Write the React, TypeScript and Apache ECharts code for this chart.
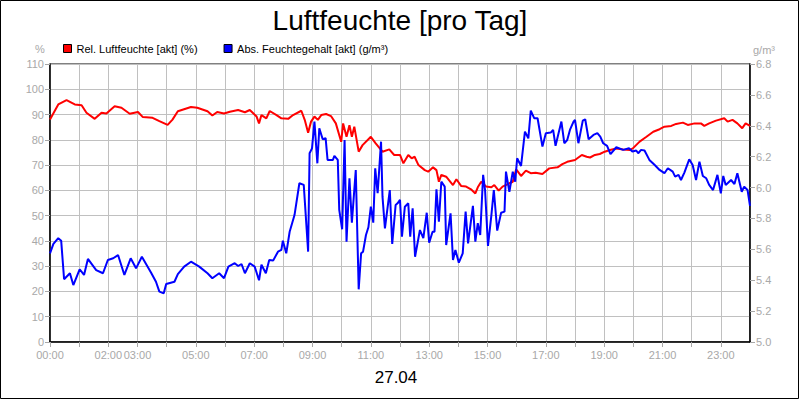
import React, { useEffect, useRef } from "react";
import * as echarts from "echarts";

const TITLE = "Luftfeuchte [pro Tag]";
const DATE_LABEL = "27.04";
const RED_NAME = "Rel. Luftfeuchte [akt] (%)";
const BLUE_NAME = "Abs. Feuchtegehalt [akt] (g/m³)";
const LABELED_HOURS = [0, 2, 3, 5, 7, 9, 11, 13, 15, 17, 19, 21, 23];

// time in minutes since 00:00
const redTimes = [
  0, 17, 34, 51, 65, 75, 92, 106, 116, 133, 147, 164, 181, 191, 211, 225, 242, 252, 263, 290, 303, 324, 334, 344, 358,
  370, 387, 401, 411, 425, 430, 435, 445, 452, 466, 476, 490, 500, 517, 524, 531, 537, 544, 551, 558, 568, 578, 588,
  599, 603, 610, 616, 621, 626, 635, 643, 660, 670, 684, 698, 708, 720, 727, 737, 744, 750, 758, 771, 778, 788, 795,
  800, 805, 815, 829, 836, 846, 856, 866, 875, 880, 887, 897, 908, 914, 923, 931, 945, 952, 959, 969, 979, 989, 999,
  1013, 1027, 1044, 1054, 1064, 1080, 1094, 1104, 1111, 1121, 1131, 1141, 1152, 1165, 1179, 1193, 1199, 1213, 1227,
  1241, 1254, 1264, 1278, 1288, 1302, 1312, 1326, 1339, 1346, 1356, 1370, 1387, 1394, 1404, 1414, 1424, 1431, 1440,
];
const redValues = [
  88, 94, 95.7, 94, 93.7, 90.7, 88.3, 90.7, 90.4, 93.3, 92.7, 90.3, 91, 89, 88.7, 87.4, 85.9, 88, 91.3, 93, 92.7, 91.3,
  89.6, 91, 90.4, 91.1, 91.8, 90.9, 91.8, 89.2, 86.5, 89.8, 88.5, 91.4, 89.8, 88.5, 88.3, 89.8, 91.5, 87.9, 82.8, 87.2,
  89.2, 87.9, 89.8, 90.2, 89.4, 86.5, 79.2, 86.5, 81.2, 85.8, 81.2, 85.2, 75.3, 77.9, 81.2, 78.6, 75.3, 76.2, 74, 74,
  70.7, 74, 72.7, 73.3, 70, 68, 67.4, 69.1, 68, 63.4, 66.1, 65.4, 62.1, 64.4, 61.7, 61.5, 60.4, 58.8, 61.2, 63.4, 61.5,
  61.2, 62.1, 59.9, 61.5, 62.8, 63.4, 68.3, 65.7, 67.8, 66.8, 67, 66.5, 68.7, 69.1, 70.4, 71.3, 72, 74, 73.3, 73, 74,
  74.4, 75.3, 76, 76.6, 76.2, 76, 76.6, 79.3, 81.2, 83.2, 84.2, 85.2, 85.5, 86.3, 86.8, 85.9, 86.5, 86.5, 85.5, 86.5,
  87.6, 88.5, 87.2, 87.9, 86.5, 84.6, 86.5, 85.5,
];

const blueTimes = [
  0, 7, 17, 23, 29, 41, 48, 61, 70, 78, 95, 109, 119, 130, 140, 153, 166, 177, 189, 208, 218, 225, 234, 239, 256, 263,
  276, 290, 307, 324, 334, 348, 358, 367, 380, 387, 394, 401, 411, 421, 430, 435, 444, 451, 459, 469, 476, 479, 486,
  493, 503, 513, 522, 531, 534, 539, 544, 550, 554, 561, 567, 571, 582, 585, 592, 595, 601, 606, 610, 616, 621, 629,
  635, 640, 644, 650, 655, 660, 665, 669, 674, 681, 684, 689, 699, 704, 711, 715, 720, 724, 730, 737, 741, 746, 751,
  761, 768, 775, 780, 787, 791, 795, 800, 805, 812, 815, 824, 829, 834, 841, 849, 855, 860, 870, 875, 880, 885, 891,
  895, 901, 908, 913, 920, 928, 935, 938, 945, 952, 957, 961, 969, 977, 984, 989, 996, 1003, 1013, 1020, 1030, 1035,
  1040, 1052, 1058, 1064, 1070, 1077, 1080, 1087, 1096, 1101, 1108, 1118, 1126, 1132, 1138, 1146, 1153, 1165, 1179,
  1191, 1198, 1206, 1210, 1216, 1223, 1233, 1244, 1254, 1264, 1271, 1281, 1286, 1293, 1298, 1305, 1315, 1322, 1329,
  1336, 1343, 1350, 1356, 1364, 1373, 1380, 1385, 1390, 1401, 1408, 1414, 1423, 1428, 1435, 1440,
];
const blueValues = [
  5.574, 5.635, 5.672, 5.656, 5.406, 5.445, 5.369, 5.471, 5.434, 5.538, 5.466, 5.445, 5.531, 5.542, 5.563, 5.434,
  5.542, 5.477, 5.552, 5.449, 5.39, 5.326, 5.315, 5.376, 5.39, 5.44, 5.488, 5.52, 5.488, 5.445, 5.413, 5.445, 5.413,
  5.488, 5.51, 5.492, 5.505, 5.445, 5.51, 5.488, 5.4, 5.5, 5.445, 5.531, 5.527, 5.585, 5.596, 5.656, 5.574, 5.714,
  5.822, 6.028, 6.017, 5.585, 6.222, 6.254, 6.427, 6.157, 6.384, 6.313, 6.32, 6.179, 6.179, 6.205, 6.179, 5.855, 5.73,
  6.308, 5.65, 6.06, 5.773, 6.114, 5.341, 5.574, 5.585, 5.693, 5.743, 5.876, 5.773, 6.125, 5.963, 6.297, 5.941, 5.736,
  5.984, 5.635, 5.887, 5.898, 5.92, 5.682, 5.876, 5.898, 5.682, 5.866, 5.552, 5.725, 5.672, 5.837, 5.643, 5.714, 5.714,
  5.989, 5.779, 6.038, 6.006, 5.628, 5.833, 5.531, 5.596, 5.514, 5.574, 5.844, 5.639, 5.881, 5.65, 5.769, 5.693, 6.082,
  5.984, 5.622, 5.822, 5.984, 5.721, 5.837, 5.844, 6.103, 5.973, 6.103, 6.038, 6.19, 6.14, 6.362, 6.319, 6.498, 6.449,
  6.449, 6.265, 6.352, 6.356, 6.373, 6.27, 6.427, 6.287, 6.308, 6.377, 6.427, 6.438, 6.287, 6.433, 6.442, 6.313, 6.341,
  6.352, 6.33, 6.287, 6.27, 6.216, 6.261, 6.244, 6.254, 6.233, 6.24, 6.222, 6.244, 6.24, 6.179, 6.146, 6.114, 6.093,
  6.125, 6.103, 6.071, 6.082, 6.049, 6.097, 6.183, 6.146, 6.049, 6.168, 6.075, 6.06, 6.017, 5.984, 6.082, 5.963, 6.075,
  6.017, 6.049, 6.023, 6.093, 5.973, 6.006, 5.984, 5.881,
];

const FONT = "'Liberation Sans', Arial, sans-serif";
const GRAY = "#a8a8a8";

export default function App() {
  const ref = useRef<HTMLDivElement>(null);
  useEffect(() => {
    if (!ref.current) return;
    const chart = echarts.init(ref.current, undefined, { renderer: "svg" });
    const redData = redTimes.map((t, i) => [t, redValues[i]]);
    const blueData = blueTimes.map((t, i) => [t, blueValues[i]]);
    chart.setOption({
      animation: false,
      backgroundColor: "#ffffff",
      textStyle: { fontFamily: FONT },
      title: {
        text: TITLE,
        left: "center",
        top: 1,
        textStyle: { fontSize: 28, fontWeight: "normal", color: "#000", fontFamily: FONT },
      },
      legend: {
        left: 58,
        top: 38,
        icon: "rect",
        itemWidth: 8,
        itemHeight: 8,
        itemGap: 26,
        textStyle: { fontSize: 11, color: "#000", fontFamily: FONT },
        data: [
          { name: RED_NAME, itemStyle: { color: "#ff0000", borderColor: "#000", borderWidth: 1 } },
          { name: BLUE_NAME, itemStyle: { color: "#0000ff", borderColor: "#000", borderWidth: 1 } },
        ],
        selectedMode: false,
      },
      grid: { left: 50, right: 50, top: 64, bottom: 58, show: true, borderColor: "#000", borderWidth: 1 },
      xAxis: {
        type: "value",
        min: 0,
        max: 1440,
        interval: 60,
        axisLine: { show: true, lineStyle: { color: "#000", width: 1.5 } },
        axisTick: { show: true, length: 5, lineStyle: { color: GRAY } },
        axisLabel: {
          color: GRAY,
          fontSize: 11,
          margin: 7,
          fontFamily: FONT,
          showMaxLabel: false,
          formatter: (v: number) => {
            const h = Math.round(v / 60);
            if (!LABELED_HOURS.includes(h) || h >= 24) return "";
            return (h < 10 ? "0" + h : "" + h) + ":00";
          },
        },
        splitLine: { show: true, lineStyle: { color: "#c0c0c0", width: 1 } },
      },
      yAxis: [
        {
          type: "value",
          min: 0,
          max: 110,
          interval: 10,
          position: "left",
          axisLine: { show: true, lineStyle: { color: "#000", width: 1.5 } },
          axisTick: { show: true, length: 5, lineStyle: { color: GRAY } },
          axisLabel: { color: GRAY, fontSize: 11, margin: 6, fontFamily: FONT },
          splitLine: { show: true, lineStyle: { color: "#c0c0c0", width: 1 } },
        },
        {
          type: "value",
          min: 5.0,
          max: 6.8,
          interval: 0.2,
          position: "right",
          axisLine: { show: true, lineStyle: { color: "#000", width: 1.5 } },
          axisTick: { show: true, length: 5, lineStyle: { color: GRAY } },
          axisLabel: {
            color: GRAY,
            fontSize: 11,
            margin: 6,
            fontFamily: FONT,
            formatter: (v: number) => v.toFixed(1),
          },
          splitLine: { show: false },
        },
      ],
      series: [
        {
          name: RED_NAME,
          type: "line",
          yAxisIndex: 0,
          data: redData,
          showSymbol: false,
          symbol: "none",
          lineStyle: { color: "#ff0000", width: 2 },
          itemStyle: { color: "#ff0000" },
          z: 2,
        },
        {
          name: BLUE_NAME,
          type: "line",
          yAxisIndex: 1,
          data: blueData,
          showSymbol: false,
          symbol: "none",
          lineStyle: { color: "#0000ff", width: 2 },
          itemStyle: { color: "#0000ff" },
          z: 3,
        },
      ],
      graphic: [
        {
          type: "rect",
          shape: { x: 0.5, y: 0.5, width: 798, height: 398 },
          style: { fill: "none", stroke: "#000", lineWidth: 1 },
          silent: true,
          z: 100,
        },
        {
          type: "text",
          x: 40,
          y: 49,
          style: { text: "%", fill: GRAY, fontSize: 11, fontFamily: FONT, textAlign: "center", textVerticalAlign: "middle" },
        },
        {
          type: "text",
          x: 753,
          y: 50,
          style: { text: "g/m³", fill: GRAY, fontSize: 11, fontFamily: FONT, textAlign: "left", textVerticalAlign: "middle" },
        },
        {
          type: "text",
          x: 396,
          y: 377,
          style: { text: DATE_LABEL, fill: "#000", fontSize: 17, fontFamily: FONT, textAlign: "center", textVerticalAlign: "middle" },
        },
      ],
    });
    return () => chart.dispose();
  }, []);
  return (
    <div
      ref={ref}
      style={{ position: "fixed", left: 0, top: 0, width: 800, height: 400, background: "#fff" }}
    />
  );
}
